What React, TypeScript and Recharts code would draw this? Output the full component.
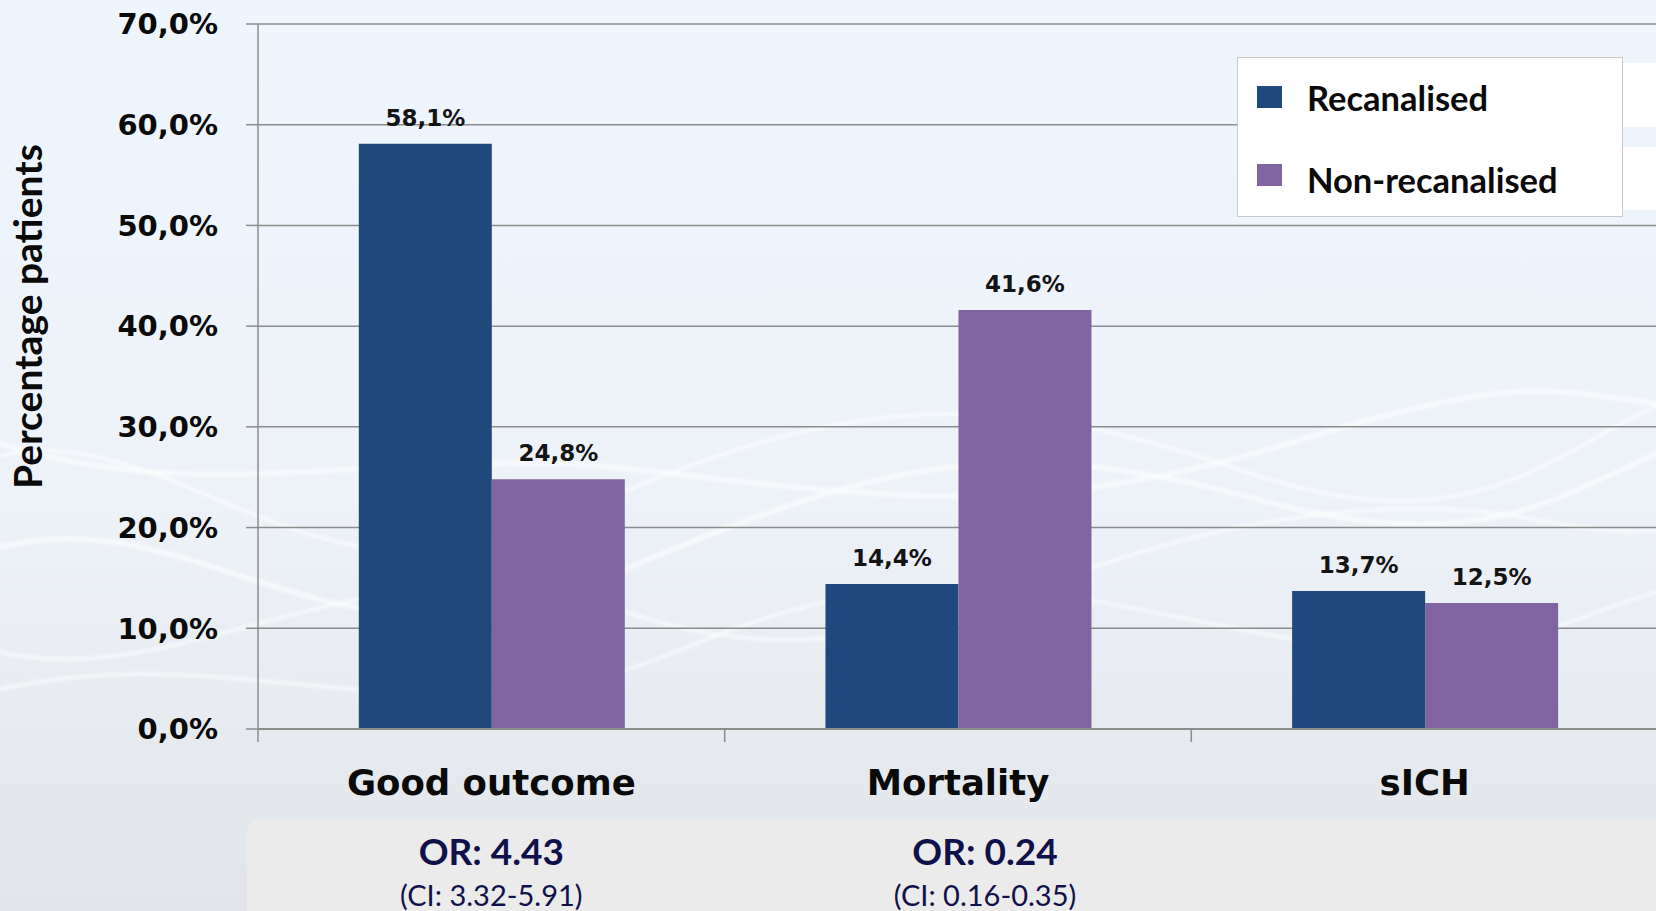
import { Bar, BarChart, CartesianGrid, LabelList, XAxis, YAxis } from "recharts";

const categories = ["Good outcome", "Mortality", "sICH"];
const recanalised = [58.1, 14.4, 13.7];
const nonRecanalised = [24.8, 41.6, 12.5];
const oddsRatios = ["OR: 4.43", "OR: 0.24", ""];
const confidenceIntervals = ["(CI: 3.32-5.91)", "(CI: 0.16-0.35)", ""];
const yTicks = [0, 10, 20, 30, 40, 50, 60, 70];

const seriesNames = ["Recanalised", "Non-recanalised"];
const seriesColors = ["#1f497d", "#8064a2"];

const data = categories.map((name, i) => ({
  name,
  recanalised: recanalised[i],
  nonRecanalised: nonRecanalised[i],
  or: oddsRatios[i],
  ci: confidenceIntervals[i],
}));

const GRID = "#8c8c8c";
const NAVY = "#10114a";
const VERDANA = "'DejaVu Sans', Verdana, sans-serif";
const CALIBRI = "Lato, 'Open Sans', sans-serif";
const X_TICK_SIZE = 12;
const X_TICK_MARGIN = 29;
// the OR text boxes were laid out by hand; the mortality one sits a little right of centre
const OR_BLOCK_NUDGE = [0, 27, 0];

const pct = (v: number) => `${v.toFixed(1).replace(".", ",")}%`;

function ValueLabel(props: any) {
  const { x, y, width, value } = props;
  return (
    <text
      x={x + width / 2}
      y={y - 18}
      textAnchor="middle"
      fontFamily={VERDANA}
      fontWeight="bold"
      fontSize={23}
      fill="#141414"
    >
      {pct(Number(value))}
    </text>
  );
}

// category label plus the odds ratio block underneath; tick marks sit on the
// boundaries between categories rather than under their centres
function CategoryTick(props: any) {
  const { x, y, index, width, visibleTicksCount } = props;
  const row = data[index];
  if (!row) return <g />;
  const band = width / visibleTicksCount;
  const axisY = y - X_TICK_SIZE - X_TICK_MARGIN;
  const edgeX = x - band / 2;
  const orX = x + (OR_BLOCK_NUDGE[index] ?? 0);
  return (
    <g>
      <line x1={edgeX} x2={edgeX} y1={axisY} y2={axisY + X_TICK_SIZE + 1} stroke={GRID} strokeWidth={1.5} />
      <text x={x} y={y} dy="0.71em" textAnchor="middle" fontFamily={VERDANA} fontWeight="bold" fontSize={35.5} fill="#0a0a0a">
        {row.name}
      </text>
      {row.or && (
        <text x={orX} y={y + 95} textAnchor="middle" fontFamily={CALIBRI} fontWeight="bold" fontSize={37} fill={NAVY}>
          {row.or}
        </text>
      )}
      {row.ci && (
        <text x={orX} y={y + 136} textAnchor="middle" fontFamily={CALIBRI} fontSize={29} fill={NAVY}>
          {row.ci}
        </text>
      )}
    </g>
  );
}

function YTitle(props: any) {
  const { viewBox } = props;
  const cx = viewBox.x + 42;
  const cy = viewBox.y + viewBox.height / 2 - 60;
  return (
    <text
      x={cx}
      y={cy}
      transform={`rotate(-90 ${cx} ${cy})`}
      textAnchor="middle"
      fontFamily={CALIBRI}
      fontWeight="bold"
      fontSize={39}
      fill="#0a0a0a"
    >
      Percentage patients
    </text>
  );
}

// soft ribbon pattern in the slide background
function Waves() {
  const paths = [
    "M-40,470 C150,380 300,640 560,520 S980,380 1240,470 S1560,430 1720,380",
    "M-40,560 C180,470 320,700 600,580 S1000,430 1260,500 S1580,470 1720,430",
    "M-40,640 C160,720 360,520 620,610 S1020,560 1280,520 S1560,560 1720,520",
    "M-40,430 C200,520 380,440 640,470 S1040,520 1300,440 S1560,400 1720,410",
    "M-40,700 C220,620 420,760 680,650 S1060,600 1300,640 S1560,600 1720,580",
  ];
  return (
    <svg width={1656} height={911} style={{ position: "absolute", left: 0, top: 0 }}>
      <defs>
        <linearGradient id="bg" x1="0" y1="0" x2="0" y2="1">
          <stop offset="0%" stopColor="#eef5fd" />
          <stop offset="55%" stopColor="#edf2f8" />
          <stop offset="100%" stopColor="#e1e5ea" />
        </linearGradient>
        <filter id="soft">
          <feGaussianBlur stdDeviation="1.6" />
        </filter>
      </defs>
      <rect x={0} y={0} width={1656} height={911} fill="url(#bg)" />
      <g filter="url(#soft)" fill="none" stroke="#ffffff" strokeOpacity={0.6}>
        {paths.map((d, i) => (
          <path key={i} d={d} strokeWidth={i % 2 ? 5 : 3.5} />
        ))}
      </g>
      <path d="M247,911 L247,832 Q247,820 259,820 L1656,820 L1656,911 Z" fill="#ebebeb" />
    </svg>
  );
}

function LegendBox() {
  return (
    <div style={{ position: "absolute", left: 1237, top: 57, width: 419, height: 160 }}>
      <div style={{ position: "absolute", left: 385, top: 6, width: 40, height: 64, background: "#ffffff" }} />
      <div style={{ position: "absolute", left: 385, top: 90, width: 40, height: 63, background: "#ffffff" }} />
      <div
        style={{
          position: "absolute",
          left: 0,
          top: 0,
          width: 384,
          height: 158,
          background: "#ffffff",
          border: "1px solid #c9c9c9",
        }}
      >
        {seriesNames.map((name, i) => (
          <div key={name} style={{ position: "absolute", left: 19, top: 28 + i * 78, display: "flex", alignItems: "center" }}>
            <div style={{ width: 25, height: 22, background: seriesColors[i] }} />
            <span
              style={{
                marginLeft: 25,
                fontFamily: CALIBRI,
                fontWeight: "bold",
                fontSize: 34.5,
                lineHeight: "22px",
                color: "#0a0a0a",
                position: "relative",
                top: 1 + i * 4,
              }}
            >
              {name}
            </span>
          </div>
        ))}
      </div>
    </div>
  );
}

export default function App() {
  return (
    <div style={{ position: "absolute", left: 0, top: 0, width: 1656, height: 911, overflow: "hidden" }}>
      <Waves />
      <div style={{ position: "absolute", left: 0, top: 0 }}>
        <BarChart
          width={1700}
          height={911}
          data={data}
          margin={{ top: 24, right: 42, bottom: 181, left: 0 }}
          barCategoryGap="21.6%"
          barGap={0}
        >
          <CartesianGrid vertical={false} stroke={GRID} strokeWidth={1.5} />
          <XAxis
            dataKey="name"
            height={1}
            axisLine={{ stroke: GRID, strokeWidth: 2 }}
            tickLine={false}
            tickSize={X_TICK_SIZE}
            tickMargin={X_TICK_MARGIN}
            tick={CategoryTick}
            interval={0}
          />
          <YAxis
            width={258}
            domain={[0, 70]}
            ticks={yTicks}
            tickFormatter={pct}
            axisLine={{ stroke: GRID, strokeWidth: 1.5 }}
            tickLine={{ stroke: GRID, strokeWidth: 1.5 }}
            tickSize={12}
            tickMargin={28}
            tick={{ fontFamily: VERDANA, fontWeight: "bold", fontSize: 29, fill: "#0a0a0a" }}
            label={<YTitle />}
          />
          <Bar dataKey="recanalised" name={seriesNames[0]} fill={seriesColors[0]} isAnimationActive={false}>
            <LabelList dataKey="recanalised" content={ValueLabel} />
          </Bar>
          <Bar dataKey="nonRecanalised" name={seriesNames[1]} fill={seriesColors[1]} isAnimationActive={false}>
            <LabelList dataKey="nonRecanalised" content={ValueLabel} />
          </Bar>
        </BarChart>
      </div>
      <LegendBox />
    </div>
  );
}
